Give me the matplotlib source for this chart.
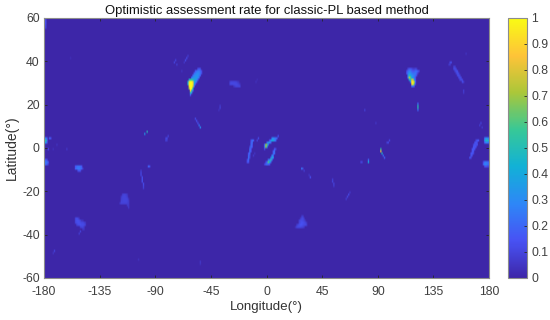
import numpy as np
import matplotlib
matplotlib.use("Agg")
import matplotlib.pyplot as plt
from matplotlib.colors import LinearSegmentedColormap

plt.rcParams['font.family'] = ['Liberation Sans', 'DejaVu Sans']
plt.rcParams['axes.unicode_minus'] = False

title = "Optimistic assessment rate for classic-PL based method"
xlabel = "Longitude(°)"
ylabel = "Latitude(°)"
lon_ticks = [-180, -135, -90, -45, 0, 45, 90, 135, 180]
lat_ticks = [-60, -40, -20, 0, 20, 40, 60]
cbar_ticks = [0, 0.1, 0.2, 0.3, 0.4, 0.5, 0.6, 0.7, 0.8, 0.9, 1]
cbar_labels = ["0", "0.1", "0.2", "0.3", "0.4", "0.5", "0.6", "0.7", "0.8", "0.9", "1"]

parula_colors = [(0.2422, 0.1504, 0.6603), (0.2810, 0.3228, 0.9579),
                 (0.1786, 0.5289, 0.9682), (0.0689, 0.6948, 0.8394),
                 (0.2161, 0.7843, 0.5923), (0.6720, 0.7793, 0.2227),
                 (0.9970, 0.7659, 0.2199), (0.9769, 0.9839, 0.0805)]

# Blobs, one row per latitude: (lat, first lon, values at 1-degree steps)
atlantic_plume = [
    (36, -56, [.12, .15, .12]),
    (35, -58, [.15, .22, .25, .25, .2, .12]),
    (34, -59, [.18, .25, .28, .3, .28, .22, .12]),
    (33, -60, [.2, .28, .3, .32, .32, .26, .18]),
    (32, -61, [.25, .3, .32, .35, .35, .3, .22]),
    (31, -63, [.45, .55, .55, .5, .4, .35, .3, .18]),
    (30, -64, [.4, .9, 1, 1, .85, .45, .3, .2]),
    (29, -64, [.45, .95, 1, 1, .9, .4, .15]),
    (28, -63, [.9, 1, 1, .8, .25]),
    (27, -63, [.7, 1, .95, .45]),
    (26, -62, [.85, .55, .2]),
    (25, -62, [.5, .3]),
    (24, -62, [.18]),
]
asia_plume = [
    (36, 114, [.1, .14, .14, .12, .08, .08, .1, .08]),
    (35, 113, [.12, .2, .26, .24, .18, .15, .15, .2, .2, .15, .1]),
    (34, 113, [.16, .25, .35, .3, .25, .22, .22, .24, .16, .08]),
    (33, 114, [.28, .5, .4, .32, .28, .25, .2, .12]),
    (32, 114, [.3, .75, .6, .38, .32, .25, .14]),
    (31, 115, [.4, .5, .75, .8, .38, .14]),
    (30, 116, [.25, .9, 1, .75, .2]),
    (29, 117, [.8, 1, .6, .12]),
    (28, 117, [.2, .25, .15]),
]
atlantic_patch = [
    (30, -30, [.08, .1, .1, .1, .1, .09, .07, .05]),
    (29, -30, [.1, .11, .11, .11, .11, .11, .1, .08, .05]),
    (28, -27, [.05, .08, .1, .1, .1, .1]),
]
africa_south = [
    (-32, 28, [.06, .08]),
    (-33, 27, [.06, .1, .11, .06]),
    (-34, 26, [.08, .11, .12, .11, .09, .05]),
    (-35, 26, [.09, .12, .14, .13, .12, .1, .06]),
    (-36, 24, [.06, .1, .12, .14, .14, .12, .11, .11, .08]),
    (-37, 23, [.05, .1, .11, .11, .11, .1, .09, .06]),
]
pacific_south = [
    (-22, -117, [.07, .09, .09, .08, .05]),
    (-23, -118, [.06, .09, .1, .1, .09, .07]),
    (-24, -118, [.08, .09, .1, .1, .1, .09, .05]),
    (-25, -118, [.09, .09, .1, .1, .1, .09, .07]),
    (-26, -119, [.06, .09, .09, .09, .09, .09, .08, .07]),
    (-27, -113, [.06, .06]),
    (-28, -112, [.06]),
]
fiji_patch = [
    (-33, -155, [.09, .12, .1, .05]),
    (-34, -155, [.1, .13, .13, .12, .09, .05, .05]),
    (-35, -155, [.09, .12, .13, .13, .12, .11, .11, .09, .06]),
    (-36, -154, [.08, .11, .12, .13, .12, .12, .11, .08]),
    (-37, -151, [.08, .1, .1, .06]),
    (-38, -149, [.06, .05]),
]
samoa_patch = [
    (-9, -155, [.15, .2, .22, .22, .2, .15]),
    (-10, -155, [.18, .22, .25, .25, .22, .18, .07]),
    (-11, -153, [.12, .16, .12]),
]
kuroshio_streak = [
    (39, 148, [.1, .12]),
    (38, 147, [.05, .08]),
    (37, 151, [.08, .09]),
    (36, 151, [.1, .12, .09]),
    (35, 152, [.09, .12, .12]),
    (34, 153, [.09, .12, .1]),
    (33, 154, [.1, .12, .09]),
    (32, 155, [.09, .12, .1]),
    (31, 156, [.09, .12, .1]),
    (30, 158, [.12, .08]),
]
africa_streak_west = [
    (3, -13, [.12, .22, .16]),
    (2, -13, [.16, .22]),
    (1, -13, [.2, .16]),
    (0, -14, [.1, .22, .14]),
    (-1, -14, [.2, .14]),
    (-2, -14, [.22, .14]),
    (-3, -15, [.14, .22]),
    (-4, -15, [.2, .12]),
    (-5, -15, [.22, .1]),
    (-6, -16, [.12, .2]),
    (-7, -16, [.14, .14]),
]
gabon_arc = [
    (4, 4, [.25, .32, .25, .22, .18]),
    (3, 2, [.14, .3, .42, .38, .3, .22]),
    (2, 0, [.22, .35, .3, .2]),
    (1, -2, [.22, .7, .6, .22]),
    (0, -2, [.25, .7, .35]),
    (-1, -2, [.12]),
]
congo_arc = [
    (-1, 6, [.14, .12]),
    (-2, 5, [.16, .22]),
    (-3, 5, [.2, .2]),
    (-4, 4, [.3, .22]),
    (-5, 3, [.2, .45, .28]),
    (-6, 1, [.22, .32, .5, .22]),
    (-7, -1, [.1, .22, .6, .42, .22]),
    (-8, -2, [.1, .18, .22, .2, .14]),
]
andaman_streaks = [
    (3, 169, [.1, .14, .15]),
    (2, 168, [.12, .15, .12]),
    (1, 167, [.1, .15, .12, .14]),
    (0, 167, [.15, .14, .14]),
    (-1, 166, [.14, .15, .14]),
    (-2, 166, [.15, .14]),
    (-3, 165, [.14, .15, .1]),
    (-4, 165, [.16, .1]),
    (-5, 164, [.15, .1]),
]
edge_east = [
    (4, 176, [.22, .32, .32, .26, .22]),
    (3, 176, [.32, .45, .5, .45, .4]),
    (2, 176, [.18, .28, .28, .22, .22]),
    (-7, 175, [.12, .22, .24, .22, .2, .18]),
    (-8, 175, [.18, .28, .28, .25, .22, .2]),
    (-9, 176, [.12, .15, .12, .1]),
]
edge_west = [
    (4, -180, [.22, .28, .14]),
    (3, -180, [.45, .55, .22]),
    (2, -180, [.28, .38, .14]),
    (-6, -180, [.14, .16, .12]),
    (-7, -180, [.22, .24, .22, .14]),
    (-8, -180, [.2, .22, .16, .08]),
]
polar_streak = [
    (59, -180, [.08, .12]),
    (58, -180, [.1, .14]),
    (57, -180, [.1, .14]),
    (56, -180, [.08, .12]),
    (55, -180, [.06, .1]),
]

# Isolated small spots
spot_lon = [122, 122, 122, 122, 92, 92, 93, 94, 95, 82, 82, 76, 77, 98, 99, 97, 79, 88,
            161, 159, 159, 173, 172, 174, -74, -75, -73, -65, -66, -64, -67, -69, -9, -8,
            -38, -38, -39, -58, -57, -56, -55, -54, -99, -97, -82, -81, -80, -82, -81,
            -7, -8, -11, -10, 9, 28, 29, 30, 35, 34, 53, 53, 54, 54, 65, 66, 64, 67,
            -176, -175, -177, -170, -162, -173, -96, -95, -102, -102, -102, -101, -101, -101, -100, -100, -100,
            -151, -152, -172, -173, -104, -54, -54, -159]
spot_lat = [20, 19, 18, 17, -1, -2, -3, -4, -5, -6, -7, -7, -7, 2, 3, 2, 17, 11,
            43, 26, 25, 11, 10, 9, 40, 39, 38, 41, 40, 42, 39, 35, 30, 31,
            19, 18, 17, 13, 12, 11, 10, 9, 6, 7, 4, 4, 5, 3, 3,
            4, 3, -4, -3, 5, -10, -10, -11, -14, -13, -15, -16, -17, -18, -23, -22, -24, -21,
            4, 4, -1, 1, -1, -1, -9, -9, -11, -12, -13, -14, -15, -16, -17, -18, -19,
            -39, -40, -48, -49, -52, -53, -54, 41]
spot_val = [.2, .5, .5, .2, .55, .85, .45, .2, .18, .2, .42, .12, .08, .12, .1, .08, .09, .06,
            .05, .08, .07, .1, .08, .07, .1, .1, .08, .12, .12, .08, .06, .05, .04, .03,
            .07, .09, .05, .12, .14, .14, .25, .32, .35, .5, .08, .12, .1, .08, .08,
            .12, .1, .06, .05, .14, .25, .1, .08, .14, .06, .08, .1, .1, .08, .1, .12, .08, .07,
            .18, .14, .14, .05, .07, .04, .18, .14, .08, .12, .12, .14, .16, .14, .12, .1, .08,
            .09, .08, .1, .06, .04, .06, .05, .03]

# Grid
lon_edges = np.arange(-180, 181, 1)
lat_edges = np.arange(-60, 61, 1)
rate = np.zeros((len(lat_edges) - 1, len(lon_edges) - 1))

def put(lon, lat, val):
    i = min(int(lat + 60), rate.shape[0] - 1)
    j = min(int(lon + 180), rate.shape[1] - 1)
    rate[i, j] = val

for feature in (atlantic_plume, asia_plume, atlantic_patch, africa_south, pacific_south,
                fiji_patch, samoa_patch, kuroshio_streak, africa_streak_west, gabon_arc,
                congo_arc, andaman_streaks, edge_east, edge_west, polar_streak):
    for lat, lon0, vals in feature:
        for k, v in enumerate(vals):
            put(lon0 + k, lat, v)
for lon, lat, val in zip(spot_lon, spot_lat, spot_val):
    put(lon, lat, val)

cmap = LinearSegmentedColormap.from_list("parula_like", parula_colors, N=256)

W, H = 550, 320
fig = plt.figure(figsize=(W / 100, H / 100), dpi=100)
ax = fig.add_axes([44 / W, 1 - 278 / H, (489 - 44) / W, (278 - 18) / H])
im = ax.imshow(rate, origin="lower", extent=[-180, 180, -60, 60], aspect="auto",
               cmap=cmap, vmin=0, vmax=1, interpolation="bilinear")
ax.set_xlim(-180, 180)
ax.set_ylim(-60, 60)
ax.set_xticks(lon_ticks)
ax.set_yticks(lat_ticks)
ax.tick_params(direction="in", length=2.5, width=0.6, top=True, right=True,
               labelsize=8.8, labelcolor="#404040", color="#262626", pad=3)
ax.tick_params(axis="x", pad=6)
for s in ax.spines.values():
    s.set_color("#8c8c8c")
    s.set_linewidth(0.8)
ax.set_title(title, fontsize=9.4, color="#111111", pad=3)
ax.set_xlabel(xlabel, fontsize=9.6, color="#333333", labelpad=2)
ax.set_ylabel(ylabel, fontsize=10, color="#333333", labelpad=2.5)

cax = fig.add_axes([508 / W, 1 - 278 / H, (527 - 508) / W, (278 - 18) / H])
cb = fig.colorbar(im, cax=cax)
cb.set_ticks(cbar_ticks)
cb.set_ticklabels(cbar_labels)
cb.ax.tick_params(direction="in", length=2, width=0.6, labelsize=8.8,
                  labelcolor="#404040", color="#262626", pad=3)
cb.outline.set_edgecolor("#8c8c8c")
cb.outline.set_linewidth(0.8)

fig.savefig("out.png", dpi=100)
